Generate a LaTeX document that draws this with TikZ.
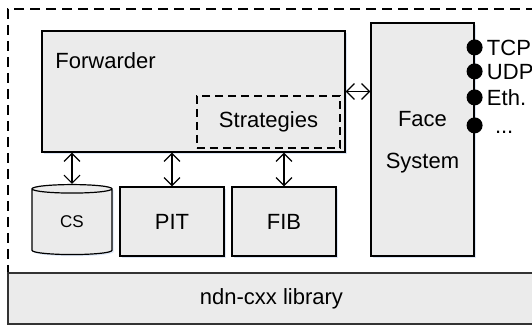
\documentclass[tikz,border=0pt]{standalone}
\usepackage{fontspec}
\setmainfont{Liberation Sans}
\usetikzlibrary{shapes.geometric,arrows.meta,calc,shadows}

\definecolor{boxfill}{RGB}{235,235,235}
\definecolor{glow}{RGB}{205,220,242}

\tikzset{
  every block/.style={draw, line width=0.6pt, fill=boxfill, inner sep=0pt,
    font=\fontsize{11}{13}\selectfont},
  glowing/.style={drop shadow={shadow xshift=0.8pt, shadow yshift=-0.8pt,
    fill=glow, opacity=0.7}},
  every port/.style={circle, fill=black, inner sep=0pt, minimum size=8pt},
  every port label/.style={font=\fontsize{11}{13}\selectfont, inner sep=1.8pt,
    text height=7.9pt, text depth=0pt}
}

\begin{document}
\begin{tikzpicture}[x=0.5pt, y=-0.5pt, >={Straight Barb[length=4pt,width=8pt]}]
\useasboundingbox (0,0) rectangle (532,325);
\clip (0,0) rectangle (532,325);

\node [draw, dashed, line width=0.6pt, dash pattern=on 5pt off 3pt,
  minimum width=266pt, minimum height=132pt] (nfd) at (274,141) {};

\node [every block/.try, draw=black!80, line width=1pt,
  minimum width=263.5pt, minimum height=25.5pt] (lib) at (271.5,298.5) {ndn-cxx library};

\node [every block/.try, glowing, minimum width=151.5pt, minimum height=60.5pt] (fwd) at (193.5,91.5) {};
\node [anchor=base west, inner sep=0pt, font=\fontsize{11}{13}\selectfont] (fwd-name) at (55,69) {Forwarder};
\node [every block/.try, dashed, dash pattern=on 4pt off 2.5pt,
  minimum width=71.5pt, minimum height=26pt] (strategy) at (268.5,122) {Strategies};

\node [every block/.try, glowing, align=center, font=\fontsize{11}{21}\selectfont,
  text depth=0pt, minimum width=51.5pt, minimum height=116.5pt] (face) at (422.5,139.5) {Face\\System};

\node [every block/.try, glowing, cylinder, shape border rotate=90, aspect=0.36,
  minimum width=40pt, minimum height=35pt, font=\fontsize{8.5}{10}\selectfont] (cs) at (72,222) {CS};
\node [every block/.try, glowing, minimum width=52pt, minimum height=34.5pt] (pit) at (172,221.5) {PIT};
\node [every block/.try, glowing, minimum width=52pt, minimum height=34.5pt] (fib) at (284,221.5) {FIB};

\foreach \n/\l/\y in {tcp/TCP/25, udp/UDP/49, eth/Eth./75}
  \node [every port/.try, label={[every port label/.try]right:\l}] (port-\n) at ($(face.north east)+(0,\y)$) {};
\node [every port/.try, label={[every port label/.try, xshift=4pt]right:...}] (port-more) at ($(face.north east)+(0,103)$) {};

\foreach \b in {cs,pit,fib}
  \draw [<->, line width=0.6pt] (fwd.south -| \b.north) -- (\b.north);
\draw [<->, line width=0.6pt] (fwd.east) -- (fwd.east -| face.west);

\end{tikzpicture}
\end{document}
